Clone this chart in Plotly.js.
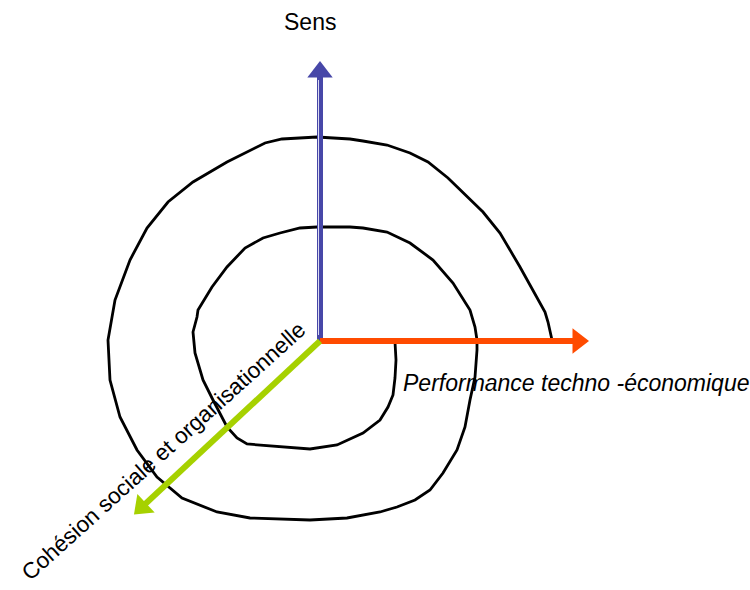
<!DOCTYPE html>
<html>
<head>
<meta charset="utf-8">
<script src="https://cdn.plot.ly/plotly-3.0.1.min.js"></script>
<style>html,body{margin:0;padding:0;background:#fff}#chart{width:750px;height:590px}</style>
</head>
<body>
<div id="chart"></div>
<script>
// Spiral path (diagram units, y grows downward)
const spiralX = [395,396,395,393,388,380,363,337,310,267,247,237,227,213,203,195,193,197,198,212,227,245,263,280,300,317,350,363,387,410,433,453,470,475,477,477,475,470,465,457,443,430,415,397,380,347,310,250,217,182,157,137,120,110,108,115,130,147,168,193,227,265,282,317,350,363,387,410,428,448,483,500,520,545,548,552];
const spiralY = [342,360,378,395,407,420,433,445,449,446,444,438,427,400,380,353,332,317,310,287,267,248,238,233,228,227,227,228,232,243,260,283,310,327,340,350,377,400,427,450,473,490,500,507,512,518,520,518,512,498,477,450,417,380,340,300,260,228,202,182,162,143,139,137,139,141,145,153,162,178,212,233,267,312,322,340];

// Three axes of the diagram: origin and arrow-head centre
const axisNames = ["Sens", "Performance techno -économique", "Cohésion sociale et organisationnelle"];
const originX = [320, 320, 320];
const originY = [341, 341, 341];
const headX = [320, 578, 142];
const headY = [72, 341, 507];
const axisColors = ["#4747a8", "#ff4b00", "#a6d100"];
const stripeColors = ["#dcdcf2", "#ff9a70", "#e6f6a8"];

const traces = [];
traces.push({
  x: spiralX, y: spiralY, type: "scatter", mode: "lines",
  line: {color: "#000", width: 2.8, shape: "linear"}, hoverinfo: "skip"
});
for (let i = 0; i < 3; i++) {
  traces.push({
    x: [originX[i], headX[i]], y: [originY[i], headY[i]],
    type: "scatter", mode: "lines+markers",
    line: {color: axisColors[i], width: 6},
    marker: {symbol: "triangle-up", size: [0, 22], opacity: 1, color: axisColors[i], angleref: "previous", line: {width: 0}},
    hoverinfo: "skip"
  });
}
// thin light stripe inside blue shaft
traces.push({
  x: [318.5, 318.5], y: [335, 80], type: "scatter", mode: "lines",
  line: {color: stripeColors[0], width: 1}, hoverinfo: "skip"
});

const layout = {
  width: 750, height: 590,
  margin: {l: 0, r: 0, t: 0, b: 0},
  paper_bgcolor: "#fff", plot_bgcolor: "#fff",
  showlegend: false,
  xaxis: {range: [0, 750], visible: false, fixedrange: true},
  yaxis: {range: [590, 0], visible: false, fixedrange: true},
  font: {family: "Liberation Sans, Arial, sans-serif", color: "#000"},
  annotations: [
    {x: 310, y: 22, xref: "x", yref: "y", text: axisNames[0], showarrow: false,
     font: {size: 23}},
    {x: 576, y: 383, xref: "x", yref: "y", text: "<i>" + axisNames[1] + "</i>", showarrow: false,
     font: {size: 23}},
    {x: 163, y: 451, xref: "x", yref: "y", text: axisNames[2], showarrow: false,
     textangle: -42, font: {size: 22.5}}
  ]
};
Plotly.newPlot("chart", traces, layout, {displayModeBar: false, staticPlot: true});
</script>
</body>
</html>
